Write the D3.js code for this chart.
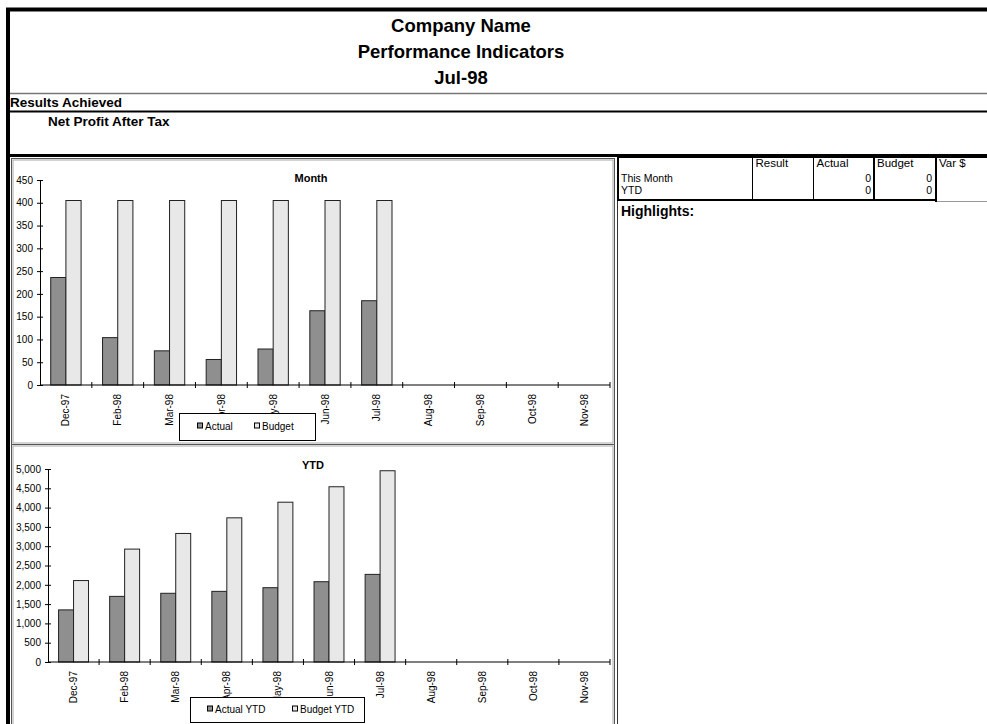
<!DOCTYPE html>
<html><head><meta charset="utf-8">
<script src="https://cdn.jsdelivr.net/npm/d3@7"></script>
<style>
body{margin:0;background:#fff;}
svg{display:block;font-family:"Liberation Sans",Arial,sans-serif;}
</style></head>
<body><svg id="c" width="987" height="724"></svg>
<script>
const months = ["Dec-97","Feb-98","Mar-98","Apr-98","May-98","Jun-98","Jul-98","Aug-98","Sep-98","Oct-98","Nov-98"];
const monthActual = [236,104,75,56,79,163,185,null,null,null,null];
const monthBudget = [405,405,405,405,405,405,405,null,null,null,null];
const ytdActual = [1350,1700,1780,1830,1925,2080,2270,null,null,null,null];
const ytdBudget = [2110,2925,3330,3735,4140,4540,4955,null,null,null,null];
const monthTicks = [0,50,100,150,200,250,300,350,400,450];
const ytdTicks = [0,500,1000,1500,2000,2500,3000,3500,4000,4500,5000];
const titleLines = ["Company Name","Performance Indicators","Jul-98"];
const tableHeaders = ["Result","Actual","Budget","Var $"];
const tableRows = ["This Month","YTD"];
const tableActual = [0,0];
const tableBudget = [0,0];

const svg = d3.select("#c");
const ACT = "#8f8f8f", BUD = "#e8e8e8";

// ---- page frame ----
svg.append("line").attr("x1",6).attr("x2",987).attr("y1",9.5).attr("y2",9.5).attr("stroke","#000").attr("stroke-width",4);
svg.append("line").attr("x1",8).attr("x2",8).attr("y1",8).attr("y2",724).attr("stroke","#000").attr("stroke-width",4);
svg.append("line").attr("x1",10).attr("x2",987).attr("y1",93.5).attr("y2",93.5).attr("stroke","#777").attr("stroke-width",1.5);
svg.append("line").attr("x1",10).attr("x2",987).attr("y1",111.5).attr("y2",111.5).attr("stroke","#000").attr("stroke-width",2);
svg.append("line").attr("x1",10).attr("x2",987).attr("y1",155.5).attr("y2",155.5).attr("stroke","#000").attr("stroke-width",3);

titleLines.forEach((t,i)=>{
  svg.append("text").attr("x",461).attr("y",32+i*26).attr("text-anchor","middle")
    .attr("font-size",18.5).attr("font-weight","bold").text(t);
});
svg.append("text").attr("x",10).attr("y",107).attr("font-size",13.5).attr("font-weight","bold").text("Results Achieved");
svg.append("text").attr("x",48).attr("y",126).attr("font-size",13.5).attr("font-weight","bold").text("Net Profit After Tax");

// ---- table ----
const tg = svg.append("g");
tg.append("line").attr("x1",617).attr("x2",987).attr("y1",157).attr("y2",157).attr("stroke","#000").attr("stroke-width",2);
tg.append("line").attr("x1",618).attr("x2",618).attr("y1",156).attr("y2",201).attr("stroke","#000").attr("stroke-width",2);
tg.append("line").attr("x1",617).attr("x2",937).attr("y1",200).attr("y2",200).attr("stroke","#000").attr("stroke-width",2);
tg.append("line").attr("x1",936).attr("x2",987).attr("y1",201.5).attr("y2",201.5).attr("stroke","#999").attr("stroke-width",1);
const colX = [752.5,813.5,874,936];
colX.forEach((x,i)=>{
  tg.append("line").attr("x1",x).attr("x2",x).attr("y1",156).attr("y2", i===3?202:200)
    .attr("stroke","#000").attr("stroke-width", i>=2?2:1);
  tg.append("text").attr("x",x+3).attr("y",167).attr("font-size",11.5).text(tableHeaders[i]);
});
tableRows.forEach((r,i)=>{
  const y = 182+i*11.5;
  tg.append("text").attr("x",621).attr("y",y).attr("font-size",10.5).text(r);
  tg.append("text").attr("x",871).attr("y",y).attr("font-size",10.5).attr("text-anchor","end").text(tableActual[i]);
  tg.append("text").attr("x",932).attr("y",y).attr("font-size",10.5).attr("text-anchor","end").text(tableBudget[i]);
});
svg.append("text").attr("x",621).attr("y",216).attr("font-size",14).attr("font-weight","bold").text("Highlights:");
svg.append("line").attr("x1",617.5).attr("x2",617.5).attr("y1",201).attr("y2",724).attr("stroke","#333").attr("stroke-width",1);

// ---- chart helper ----
function chart(o){
  const g = svg.append("g");
  g.append("rect").attr("x",o.box[0]+0.5).attr("y",o.box[1]+0.5).attr("width",o.box[2]-o.box[0]).attr("height",o.box[3]-o.box[1])
    .attr("fill","#fff").attr("stroke","#555").attr("stroke-width",1);
  g.append("rect").attr("x",o.box[0]+2).attr("y",o.box[1]+2).attr("width",o.box[2]-o.box[0]-3).attr("height",o.box[3]-o.box[1]-3)
    .attr("fill","none").attr("stroke","#aaa").attr("stroke-width",1);

  const x = d3.scaleBand().domain(months).range([o.x0,o.x1]).paddingInner(0).paddingOuter(0);
  const y = d3.scaleLinear().domain([0,o.max]).range([o.y0,o.y1]);
  const bw = x.bandwidth()*0.293;

  const data = months.map((m,i)=>({m,a:o.act[i],b:o.bud[i]})).filter(d=>d.a!=null);
  g.selectAll(".ba").data(data).enter().append("rect")
    .attr("x",d=>x(d.m)+x.bandwidth()/2-bw).attr("y",d=>y(d.a)).attr("width",bw).attr("height",d=>y(0)-y(d.a))
    .attr("fill",ACT).attr("stroke","#222").attr("stroke-width",1);
  g.selectAll(".bb").data(data).enter().append("rect")
    .attr("x",d=>x(d.m)+x.bandwidth()/2).attr("y",d=>y(d.b)).attr("width",bw).attr("height",d=>y(0)-y(d.b))
    .attr("fill",BUD).attr("stroke","#222").attr("stroke-width",1);

  const ya = d3.axisLeft(y).tickValues(o.ticks).tickFormat(d3.format(",")).tickSize(3).tickPadding(4);
  const yg = g.append("g").attr("transform",`translate(${o.x0},0)`).call(ya);
  yg.select(".domain").attr("stroke","#000");
  yg.selectAll(".tick line").attr("x1",-3).attr("x2",3).attr("stroke","#000");
  yg.selectAll("text").attr("font-size",10).attr("font-family","Liberation Sans, Arial, sans-serif").attr("fill","#000");

  const xa = d3.axisBottom(x).tickSize(0).tickPadding(0).tickFormat("");
  const xg = g.append("g").attr("transform",`translate(0,${o.y0})`).call(xa);
  xg.select(".domain").attr("stroke","#000").attr("d",`M${o.x0},0H${o.x1}`);
  const bounds = months.map(m=>x(m)+x.step());
  xg.selectAll(".bt").data(bounds).enter().append("line")
    .attr("x1",d=>d).attr("x2",d=>d).attr("y1",-3).attr("y2",3).attr("stroke","#000");
  xg.selectAll(".lbl").data(months).enter().append("text")
    .attr("transform",d=>`translate(${x(d)+x.bandwidth()/2},9) rotate(-90)`)
    .attr("text-anchor","end").attr("dy","0.35em").attr("font-size",10)
    .attr("font-family","Liberation Sans, Arial, sans-serif").attr("fill","#000").text(d=>d);

  g.append("text").attr("x",o.tx).attr("y",o.ty).attr("text-anchor","middle").attr("font-size",11).attr("font-weight","bold").text(o.title);

  const L = o.leg;
  g.append("rect").attr("x",L.x+0.5).attr("y",L.y+0.5).attr("width",L.w).attr("height",L.h).attr("fill","#fff").attr("stroke","#000");
  L.items.forEach((it,i)=>{
    g.append("rect").attr("x",it.sx+0.5).attr("y",L.y+L.h/2-3.5).attr("width",5).attr("height",5)
      .attr("fill",i===0?ACT:BUD).attr("stroke","#000");
    g.append("text").attr("x",it.sx+8).attr("y",L.y+L.h/2+3.5).attr("font-size",10).text(it.label);
  });
}

chart({box:[11,158,614,444], x0:40, x1:610, y0:385, y1:180, max:450, act:monthActual, bud:monthBudget, ticks:monthTicks,
  title:"Month", tx:311, ty:182,
  leg:{x:179,y:413,w:136,h:27,items:[{sx:197,label:"Actual"},{sx:254,label:"Budget"}]}});
chart({box:[11,444,614,740], x0:48, x1:610, y0:662, y1:469, max:5000, act:ytdActual, bud:ytdBudget, ticks:ytdTicks,
  title:"YTD", tx:313, ty:469,
  leg:{x:190,y:697,w:174,h:25,items:[{sx:207,label:"Actual YTD"},{sx:292,label:"Budget YTD"}]}});
</script></body></html>
